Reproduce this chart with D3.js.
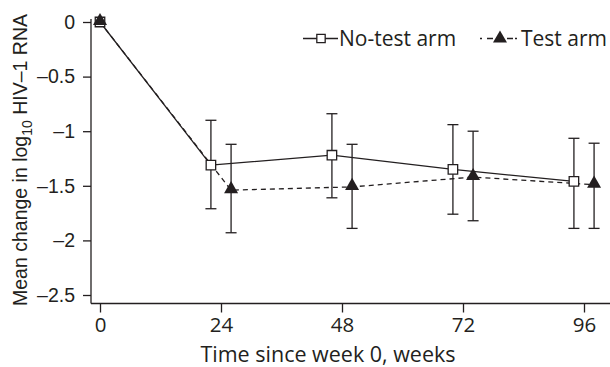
<!DOCTYPE html>
<html>
<head>
<meta charset="utf-8">
<script src="https://cdn.jsdelivr.net/npm/d3@7"></script>
<style>
  html, body { margin: 0; padding: 0; background: #fff; }
  svg { display: block; }
</style>
</head>
<body>
<svg id="chart" width="610" height="367" font-family="'Open Sans', 'Noto Sans', sans-serif"></svg>
<script>
// ---- data ----
const xTicks = [0, 24, 48, 72, 96];
const yTicks = [0, -0.5, -1, -1.5, -2, -2.5];
const yTickLabels = ["0", "–0.5", "–1", "–1.5", "–2", "–2.5"];

const noTestWeeks = [0, 22, 46, 70, 94];
const noTestMean  = [0, -1.31, -1.22, -1.35, -1.46];
const noTestUpper = [0, -0.90, -0.84, -0.94, -1.065];
const noTestLower = [0, -1.71, -1.61, -1.76, -1.89];

const testWeeks = [0, 26, 50, 74, 98];
const testMean  = [0, -1.54, -1.51, -1.42, -1.49];
const testUpper = [0, -1.12, -1.12, -1.00, -1.11];
const testLower = [0, -1.93, -1.89, -1.82, -1.89];

const legendLabels = ["No-test arm", "Test arm"];

// ---- layout ----
const svg = d3.select("#chart");
const ink = "#231f20";
const humanist = "'Open Sans', 'Noto Sans', sans-serif";
const grotesk = "'Liberation Sans', Arial, sans-serif";
const x = d3.scaleLinear().domain([0, 96]).range([100, 584]);
const y = d3.scaleLinear().domain([0, -2.5]).range([22, 295]);
const xAxisY = 303.5, yAxisX = 91;

// x axis
svg.append("line").attr("x1", yAxisX).attr("x2", 610).attr("y1", xAxisY).attr("y2", xAxisY)
  .attr("stroke", ink).attr("stroke-width", 1.3);
const ax = svg.append("g").attr("transform", `translate(0,${xAxisY})`)
  .call(d3.axisBottom(x).tickValues(xTicks).tickSize(9).tickPadding(5).tickFormat(d3.format("d")));
ax.attr("font-family", humanist).attr("font-size", 20.5);
ax.select(".domain").remove();
ax.selectAll("line").attr("stroke", ink).attr("stroke-width", 1.3);
ax.selectAll("text").attr("fill", ink);

// y axis
svg.append("line").attr("x1", yAxisX).attr("x2", yAxisX).attr("y1", 19).attr("y2", xAxisY)
  .attr("stroke", ink).attr("stroke-width", 1.3);
const ay = svg.append("g").attr("transform", `translate(${yAxisX},0)`)
  .call(d3.axisLeft(y).tickValues(yTicks).tickSize(8).tickPadding(8).tickFormat((d, i) => yTickLabels[i]));
ay.attr("font-family", grotesk).attr("font-size", 19.5);
ay.select(".domain").remove();
ay.selectAll("line").attr("stroke", ink).attr("stroke-width", 1.3);
ay.selectAll("text").attr("fill", ink);

// axis titles
svg.append("text").attr("x", 328).attr("y", 362).attr("text-anchor", "middle")
  .attr("font-size", 21.5).attr("font-family", humanist).attr("fill", ink)
  .text("Time since week 0, weeks");

const yl = svg.append("text").attr("transform", "translate(27,160) rotate(-90)")
  .attr("text-anchor", "middle").attr("font-size", 19.5).attr("font-family", grotesk).attr("fill", ink);
yl.append("tspan").text("Mean change in log");
yl.append("tspan").attr("font-size", 14).attr("dy", 5).text("10");
yl.append("tspan").attr("dy", -5).text(" HIV–1 RNA");

// series
const noTest = noTestWeeks.map((w, i) => ({w, m: noTestMean[i], u: noTestUpper[i], l: noTestLower[i]}));
const test = testWeeks.map((w, i) => ({w, m: testMean[i], u: testUpper[i], l: testLower[i]}));
const line = d3.line().x(d => x(d.w)).y(d => y(d.m));

// error bars
function errorBars(data) {
  const g = svg.append("g").attr("stroke", ink).attr("stroke-width", 1.3);
  data.filter(d => d.u !== d.l).forEach(d => {
    g.append("line").attr("x1", x(d.w)).attr("x2", x(d.w)).attr("y1", y(d.u)).attr("y2", y(d.l));
    [d.u, d.l].forEach(v => g.append("line").attr("x1", x(d.w) - 5.5).attr("x2", x(d.w) + 5.5)
      .attr("y1", y(v)).attr("y2", y(v)));
  });
}
errorBars(noTest);
errorBars(test);

svg.append("path").datum(test).attr("d", line).attr("fill", "none")
  .attr("stroke", ink).attr("stroke-width", 1.3).attr("stroke-dasharray", "5,4");
svg.append("path").datum(noTest).attr("d", line).attr("fill", "none")
  .attr("stroke", ink).attr("stroke-width", 1.3);

const sq = d3.symbol().type(d3.symbolSquare).size(90);
const tri = d3.symbol().type(d3.symbolTriangle).size(85);

svg.append("g").selectAll("path").data(noTest).join("path")
  .attr("transform", d => `translate(${x(d.w)},${y(d.m)})`)
  .attr("d", sq).attr("fill", "#fff").attr("stroke", ink).attr("stroke-width", 1.3);
svg.append("g").selectAll("path").data(test).join("path")
  .attr("transform", d => `translate(${x(d.w)},${y(d.m) - 1})`)
  .attr("d", tri).attr("fill", ink);

// legend
const lg = svg.append("g").attr("font-family", humanist).attr("font-size", 21);
const ly = 38.5;
lg.append("line").attr("x1", 303).attr("x2", 338).attr("y1", ly).attr("y2", ly)
  .attr("stroke", ink).attr("stroke-width", 1.3);
lg.append("path").attr("transform", `translate(321,${ly})`).attr("d", d3.symbol().type(d3.symbolSquare).size(70))
  .attr("fill", "#fff").attr("stroke", ink).attr("stroke-width", 1.3);
lg.append("text").attr("x", 339).attr("y", 45.5).attr("fill", ink).text(legendLabels[0]);

lg.append("line").attr("x1", 480).attr("x2", 520).attr("y1", ly).attr("y2", ly)
  .attr("stroke", ink).attr("stroke-width", 1.3).attr("stroke-dasharray", "2,5,6,14,6,2");
lg.append("path").attr("transform", `translate(500,${ly})`).attr("d", tri).attr("fill", ink);
lg.append("text").attr("x", 521).attr("y", 45.5).attr("fill", ink).text(legendLabels[1]);
</script>
</body>
</html>
